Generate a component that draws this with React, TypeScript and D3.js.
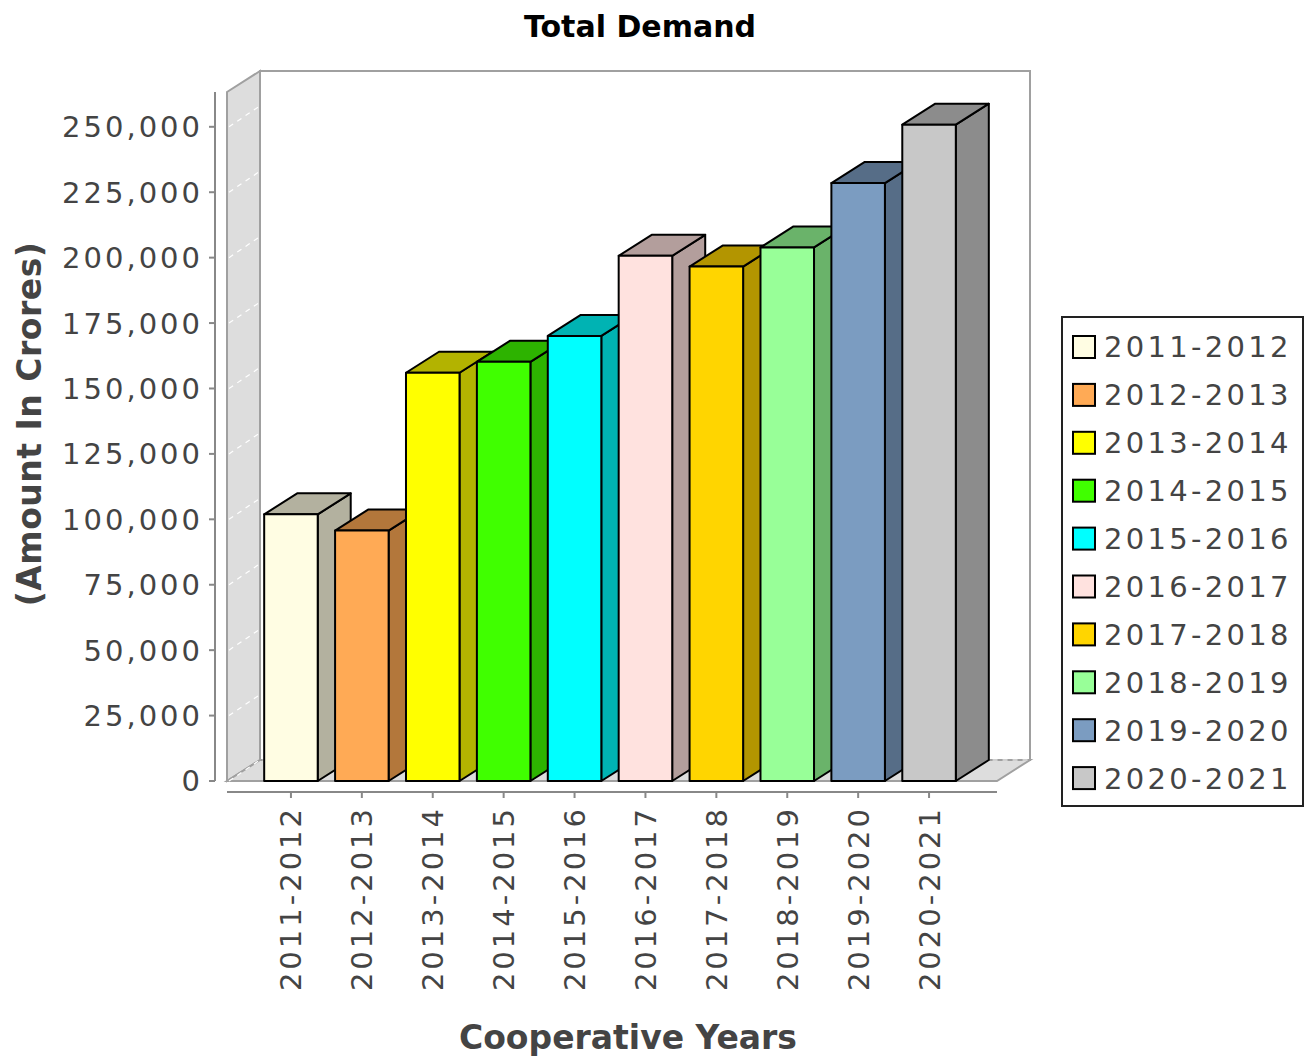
import * as d3 from "d3";

const categories = [
  "2011-2012",
  "2012-2013",
  "2013-2014",
  "2014-2015",
  "2015-2016",
  "2016-2017",
  "2017-2018",
  "2018-2019",
  "2019-2020",
  "2020-2021",
];
const demand = [101900, 95700, 156000, 160200, 170100, 200700, 196600, 203900, 228500, 250800];
const barColors = [
  "#FFFDE3",
  "#FFAA55",
  "#FFFF00",
  "#40FF00",
  "#00FFFF",
  "#FFE2DF",
  "#FFD500",
  "#98FF98",
  "#7B9CC1",
  "#C8C8C8",
];
const yTicks = [0, 25000, 50000, 75000, 100000, 125000, 150000, 175000, 200000, 225000, 250000];

const W = 1305;
const H = 1059;
// front plane of the plot and 3D depth offset
const left = 227;
const right = 997;
const top = 92;
const bottom = 781;
const dx = 33;
const dy = 21;

const font = "'DejaVu Sans', sans-serif";
const fmt = d3.format(",");

const App = () => {
  const y = d3.scaleLinear().domain([0, 263300]).range([bottom, top]);
  const x = d3
    .scaleBand<string>()
    .domain(categories)
    .range([255.5, 964.5])
    .paddingInner(0.245)
    .paddingOuter(0.1225);

  const pts = (p: number[][]) => p.map((d) => d.join(",")).join(" ");

  return (
    <svg width={W} height={H} style={{ position: "absolute", left: 0, top: 0 }}>
      <rect width={W} height={H} fill="#fff" />
      <text
        x={640}
        y={37}
        textAnchor="middle"
        fontFamily={font}
        fontWeight="bold"
        fontSize={30}
        fill="#000"
      >
        Total Demand
      </text>

      {/* back wall, left wall, floor */}
      <rect
        x={left + dx}
        y={top - dy}
        width={right - left}
        height={bottom - top}
        fill="#fff"
        stroke="#a0a0a0"
        strokeWidth={2}
      />
      <polygon
        points={pts([
          [left, top],
          [left + dx, top - dy],
          [left + dx, bottom - dy],
          [left, bottom],
        ])}
        fill="#dddddd"
        stroke="#a0a0a0"
        strokeWidth={2}
      />
      <polygon
        points={pts([
          [left, bottom],
          [left + dx, bottom - dy],
          [right + dx, bottom - dy],
          [right, bottom],
        ])}
        fill="#dddddd"
        stroke="#a0a0a0"
        strokeWidth={2}
      />
      {yTicks.map((t) => (
        <polyline
          key={"g" + t}
          points={pts([
            [left + 2, y(t)],
            [left + dx, y(t) - dy],
            [right + dx, y(t) - dy],
          ])}
          fill="none"
          stroke="#ffffff"
          strokeWidth={1.2}
          strokeDasharray="5,5"
        />
      ))}

      {/* bars */}
      {categories.map((c, i) => {
        const x0 = x(c) as number;
        const w = x.bandwidth();
        const yt = y(demand[i]);
        const dark = d3.rgb(barColors[i]).darker(1).formatHex();
        return (
          <g key={c} stroke="#000" strokeWidth={2} strokeLinejoin="round">
            <polygon
              points={pts([
                [x0 + w, yt],
                [x0 + w + dx, yt - dy],
                [x0 + w + dx, bottom - dy],
                [x0 + w, bottom],
              ])}
              fill={dark}
            />
            <polygon
              points={pts([
                [x0, yt],
                [x0 + dx, yt - dy],
                [x0 + w + dx, yt - dy],
                [x0 + w, yt],
              ])}
              fill={dark}
            />
            <rect x={x0} y={yt} width={w} height={bottom - yt} fill={barColors[i]} />
          </g>
        );
      })}

      {/* value axis */}
      <line x1={215} x2={215} y1={top} y2={bottom} stroke="#888" strokeWidth={2} />
      {yTicks.map((t) => (
        <g key={"t" + t}>
          <line x1={209} x2={215} y1={y(t)} y2={y(t)} stroke="#888" strokeWidth={2} />
          <text
            x={203}
            y={y(t)}
            dy="0.36em"
            textAnchor="end"
            fontFamily={font}
            fontSize={29}
            letterSpacing={3}
            fill="#444"
          >
            {fmt(t)}
          </text>
        </g>
      ))}
      <text
        transform={`translate(41,424) rotate(-90)`}
        textAnchor="middle"
        fontFamily={font}
        fontWeight="bold"
        fontSize={33}
        letterSpacing={0.5}
        fill="#444"
      >
        (Amount In Crores)
      </text>

      {/* category axis */}
      <line x1={left} x2={right} y1={792} y2={792} stroke="#888" strokeWidth={2} />
      {categories.map((c) => {
        const cx = (x(c) as number) + x.bandwidth() / 2;
        return (
          <g key={"c" + c}>
            <line x1={cx} x2={cx} y1={792} y2={798} stroke="#888" strokeWidth={2} />
            <text
              transform={`translate(${cx},806) rotate(-90)`}
              dy="0.36em"
              textAnchor="end"
              fontFamily={font}
              fontSize={29}
              letterSpacing={3}
              fill="#444"
            >
              {c}
            </text>
          </g>
        );
      })}
      <text
        x={628}
        y={1049}
        textAnchor="middle"
        fontFamily={font}
        fontWeight="bold"
        fontSize={33}
        fill="#444"
      >
        Cooperative Years
      </text>

      {/* legend */}
      <rect x={1062} y={317} width={241} height={489} fill="#fff" stroke="#222" strokeWidth={2} />
      {categories.map((c, i) => {
        const cy = 347 + i * 47.9;
        return (
          <g key={"l" + c}>
            <rect
              x={1073}
              y={cy - 11}
              width={22}
              height={22}
              fill={barColors[i]}
              stroke="#000"
              strokeWidth={2}
            />
            <text
              x={1104}
              y={cy}
              dy="0.36em"
              fontFamily={font}
              fontSize={29}
              letterSpacing={3.3}
              fill="#444"
            >
              {c}
            </text>
          </g>
        );
      })}
    </svg>
  );
};

export default App;
